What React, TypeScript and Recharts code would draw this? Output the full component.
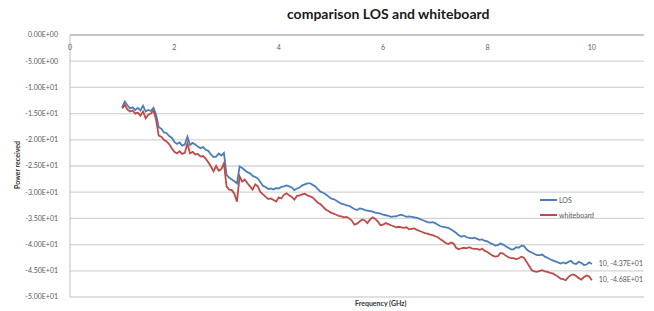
import { LineChart, Line, XAxis, YAxis, CartesianGrid, Legend } from 'recharts'

// frequency points (GHz), 0.05 steps
const freqs = [
    1.0, 1.05, 1.1, 1.15, 1.2, 1.25, 1.3, 1.35, 1.4, 1.45,
    1.5, 1.55, 1.6, 1.65, 1.7, 1.75, 1.8, 1.85, 1.9, 1.95,
    2.0, 2.05, 2.1, 2.15, 2.2, 2.25, 2.3, 2.35, 2.4, 2.45,
    2.5, 2.55, 2.6, 2.65, 2.7, 2.75, 2.8, 2.85, 2.9, 2.95,
    3.0, 3.05, 3.1, 3.15, 3.2, 3.25, 3.3, 3.35, 3.4, 3.45,
    3.5, 3.55, 3.6, 3.65, 3.7, 3.75, 3.8, 3.85, 3.9, 3.95,
    4.0, 4.05, 4.1, 4.15, 4.2, 4.25, 4.3, 4.35, 4.4, 4.45,
    4.5, 4.55, 4.6, 4.65, 4.7, 4.75, 4.8, 4.85, 4.9, 4.95,
    5.0, 5.05, 5.1, 5.15, 5.2, 5.25, 5.3, 5.35, 5.4, 5.45,
    5.5, 5.55, 5.6, 5.65, 5.7, 5.75, 5.8, 5.85, 5.9, 5.95,
    6.0, 6.05, 6.1, 6.15, 6.2, 6.25, 6.3, 6.35, 6.4, 6.45,
    6.5, 6.55, 6.6, 6.65, 6.7, 6.75, 6.8, 6.85, 6.9, 6.95,
    7.0, 7.05, 7.1, 7.15, 7.2, 7.25, 7.3, 7.35, 7.4, 7.45,
    7.5, 7.55, 7.6, 7.65, 7.7, 7.75, 7.8, 7.85, 7.9, 7.95,
    8.0, 8.05, 8.1, 8.15, 8.2, 8.25, 8.3, 8.35, 8.4, 8.45,
    8.5, 8.55, 8.6, 8.65, 8.7, 8.75, 8.8, 8.85, 8.9, 8.95,
    9.0, 9.05, 9.1, 9.15, 9.2, 9.25, 9.3, 9.35, 9.4, 9.45,
    9.5, 9.55, 9.6, 9.65, 9.7, 9.75, 9.8, 9.85, 9.9, 9.95,
    10,
]

const los = [
    -13.8, -12.7, -13.4, -14.0, -13.8, -14.3, -13.9, -14.4, -13.5, -14.6,
    -14.3, -14.5, -13.9, -15.2, -17.6, -17.9, -18.6, -18.7, -19.3, -19.6,
    -20.4, -20.8, -20.5, -21.1, -20.9, -19.4, -21.0, -20.6, -20.9, -21.3,
    -21.6, -21.4, -21.9, -22.1, -22.8, -23.3, -23.2, -22.6, -23.0, -22.5,
    -26.7, -27.2, -27.6, -27.9, -28.3, -25.1, -25.4, -25.8, -26.2, -26.4,
    -26.9, -27.1, -27.4, -28.1, -28.8, -29.0, -29.4, -29.3, -29.5, -29.2,
    -29.3, -29.0, -28.9, -28.7, -28.9, -29.1, -29.6, -29.3, -29.1, -28.7,
    -28.5, -28.3, -28.3, -28.6, -28.9, -29.4, -29.9, -30.1, -30.4, -30.8,
    -31.2, -31.3, -31.6, -31.9, -32.2, -32.3, -32.5, -32.6, -32.9, -33.2,
    -33.4, -33.1, -33.2, -33.4, -33.5, -33.6, -33.7, -33.9, -34.0, -34.1,
    -34.3, -34.4, -34.5, -34.7, -34.6, -34.6, -34.4, -34.3, -34.5, -34.7,
    -34.6, -34.7, -34.8, -34.9, -35.1, -35.3, -35.5, -35.7, -35.8, -35.7,
    -35.9, -36.2, -36.5, -36.6, -36.7, -36.8, -37.1, -37.4, -37.8, -38.2,
    -38.5, -38.3, -38.6, -38.7, -38.8, -38.7, -38.9, -39.1, -39.0, -39.3,
    -39.4, -39.7, -39.9, -40.2, -40.1, -39.8, -40.0, -40.3, -40.6, -40.9,
    -40.9, -40.5, -40.6, -40.2, -40.3, -40.9, -41.3, -41.5, -41.8, -42.0,
    -42.0, -41.9, -42.3, -42.5, -42.8, -43.0, -43.2, -43.4, -43.6, -43.4,
    -43.6, -43.3, -43.1, -43.6, -43.7, -43.3, -43.5, -43.9, -43.8, -43.4,
    -43.7,
]

const whiteboard = [
    -14.0, -13.3, -14.2, -14.6, -14.4, -15.0, -14.8, -15.4, -14.6, -15.9,
    -15.2, -15.0, -14.4, -16.2, -19.2, -19.4, -20.0, -20.3, -20.8, -21.6,
    -22.3, -22.6, -22.2, -22.7, -22.5, -20.7, -22.6, -22.3, -22.8, -22.7,
    -23.2, -23.1, -23.6, -24.3, -25.1, -26.0, -25.0, -25.9, -25.6, -24.5,
    -28.9, -29.5, -29.6, -30.3, -31.8, -27.0, -28.0, -27.6, -28.3, -28.9,
    -29.5, -28.5, -28.9, -30.0, -30.4, -30.9, -31.3, -31.2, -31.5, -31.8,
    -31.0, -31.2, -30.5, -30.2, -30.6, -30.9, -31.4, -30.7, -30.6, -30.4,
    -30.3, -30.6, -30.8, -31.0, -31.5, -32.0, -32.3, -32.8, -33.3, -33.6,
    -33.9, -34.1, -34.3, -34.5, -34.6, -34.8, -34.7, -35.0, -35.4, -36.2,
    -36.0, -35.6, -35.2, -35.4, -35.9, -35.2, -34.8, -35.1, -35.6, -36.3,
    -36.2, -35.9, -36.1, -36.3, -36.5, -36.7, -36.6, -36.7, -36.8, -36.7,
    -37.1, -37.0, -36.9, -37.2, -37.4, -37.6, -37.8, -37.9, -38.1, -38.2,
    -38.4, -38.6, -39.0, -39.3, -39.7, -39.9, -39.6, -39.8, -40.6, -40.9,
    -40.7, -40.6, -40.7, -40.5, -40.7, -40.8, -40.8, -41.0, -40.8, -41.2,
    -41.4, -41.8, -42.1, -42.3, -42.2, -41.6, -41.7, -42.1, -42.4, -42.6,
    -42.6, -42.8, -42.6, -42.3, -42.5, -43.3, -44.1, -44.9, -45.1, -45.2,
    -45.0, -44.9, -45.1, -45.2, -45.4, -45.5, -45.8, -46.1, -46.5, -46.6,
    -46.8, -46.2, -45.8, -45.7, -46.0, -46.4, -46.7, -46.2, -45.9, -46.1,
    -46.8,
]

const xTicks = [0, 2, 4, 6, 8, 10]
const yTicks = [0, -5, -10, -15, -20, -25, -30, -35, -40, -45, -50]

const data = freqs.map((f, i) => ({ f, los: los[i], whiteboard: whiteboard[i] }))

// Excel style scientific: -5.00E+00
const sci = (v: number) => {
    if (v === 0) return '0.00E+00'
    const [m, e] = v.toExponential(2).split('e')
    const n = parseInt(e, 10)
    const sign = n < 0 ? '-' : '+'
    return `${m}E${sign}${String(Math.abs(n)).padStart(2, '0')}`
}

const FONT = 'Lato, "Open Sans", sans-serif'
const BLUE = '#4a7ebb'
const RED = '#be4b48'

// labels sit under the top axis line, inside the plot (axis crosses at 0)
const TopTick = (props: any) => {
    const { x, y, payload } = props
    return (
        <text x={x} y={y + 15} textAnchor="middle" fontSize={7} fill="#595959" fontFamily={FONT}>
            {payload.value}
        </text>
    )
}

const endLabel = (series: number[]) => (props: any) => {
    const { x, y, index } = props
    if (index !== series.length - 1) return null
    return (
        <text x={x + 7} y={y + 2} fontSize={7} fill="#595959" fontFamily={FONT}>
            {`${freqs[index]}, ${sci(series[index])}`}
        </text>
    )
}

const LegendBox = (props: any) => {
    const { payload } = props
    return (
        <div style={{ fontFamily: FONT, fontSize: 7, color: '#595959' }}>
            {payload.map((p: any) => (
                <div key={p.value} style={{ display: 'flex', alignItems: 'center', height: 15 }}>
                    <span style={{ display: 'inline-block', width: 17, height: 2, background: p.color, marginRight: 2 }} />
                    {p.value}
                </div>
            ))}
        </div>
    )
}

export default function App() {
    return (
        <div style={{ position: 'absolute', left: 0, top: 0, width: 654, height: 311, background: '#fff' }}>
            <LineChart width={654} height={311} data={data} margin={{ top: 15, right: 10, bottom: 14, left: 0 }}>
                <CartesianGrid vertical={false} stroke="#d4d4d4" strokeWidth={1.3} />
                <XAxis
                    dataKey="f"
                    type="number"
                    domain={[0, 11]}
                    ticks={xTicks}
                    orientation="top"
                    height={20}
                    tickSize={0}
                    tickMargin={0}
                    tickLine={false}
                    axisLine={{ stroke: '#bfbfbf', strokeWidth: 1.3 }}
                    tick={<TopTick />}
                    interval={0}
                />
                <YAxis
                    type="number"
                    domain={[-50, 0]}
                    ticks={yTicks}
                    width={70}
                    tickFormatter={sci}
                    tickLine={false}
                    axisLine={{ stroke: '#bfbfbf' }}
                    tick={{ fontSize: 7, fill: '#595959', fontFamily: FONT }}
                    tickMargin={6}
                    interval={0}
                />
                <Legend
                    layout="vertical"
                    verticalAlign="middle"
                    align="center"
                    content={<LegendBox />}
                    wrapperStyle={{ left: 540, top: 192, width: 80 }}
                />
                <Line
                    type="linear"
                    dataKey="los"
                    name="LOS"
                    stroke={BLUE}
                    strokeWidth={1.8}
                    dot={false}
                    isAnimationActive={false}
                    label={endLabel(los)}
                />
                <Line
                    type="linear"
                    dataKey="whiteboard"
                    name="whiteboard"
                    stroke={RED}
                    strokeWidth={1.8}
                    dot={false}
                    isAnimationActive={false}
                    label={endLabel(whiteboard)}
                />
            </LineChart>
            <div
                style={{
                    position: 'absolute',
                    left: 287,
                    top: 5,
                    whiteSpace: 'nowrap',
                    fontFamily: FONT,
                    fontWeight: 700,
                    fontSize: 14,
                    color: '#1a1a1a',
                }}
            >
                comparison LOS and whiteboard
            </div>
            <div
                style={{
                    position: 'absolute',
                    left: 355,
                    top: 299,
                    fontFamily: FONT,
                    fontWeight: 700,
                    fontSize: 7,
                    color: '#333',
                }}
            >
                Frequency (GHz)
            </div>
            <div
                style={{
                    position: 'absolute',
                    left: 17,
                    top: 165,
                    transform: 'translate(-50%, -50%) rotate(-90deg)',
                    whiteSpace: 'nowrap',
                    fontFamily: FONT,
                    fontWeight: 700,
                    fontSize: 7,
                    color: '#333',
                }}
            >
                Power received
            </div>
        </div>
    )
}
